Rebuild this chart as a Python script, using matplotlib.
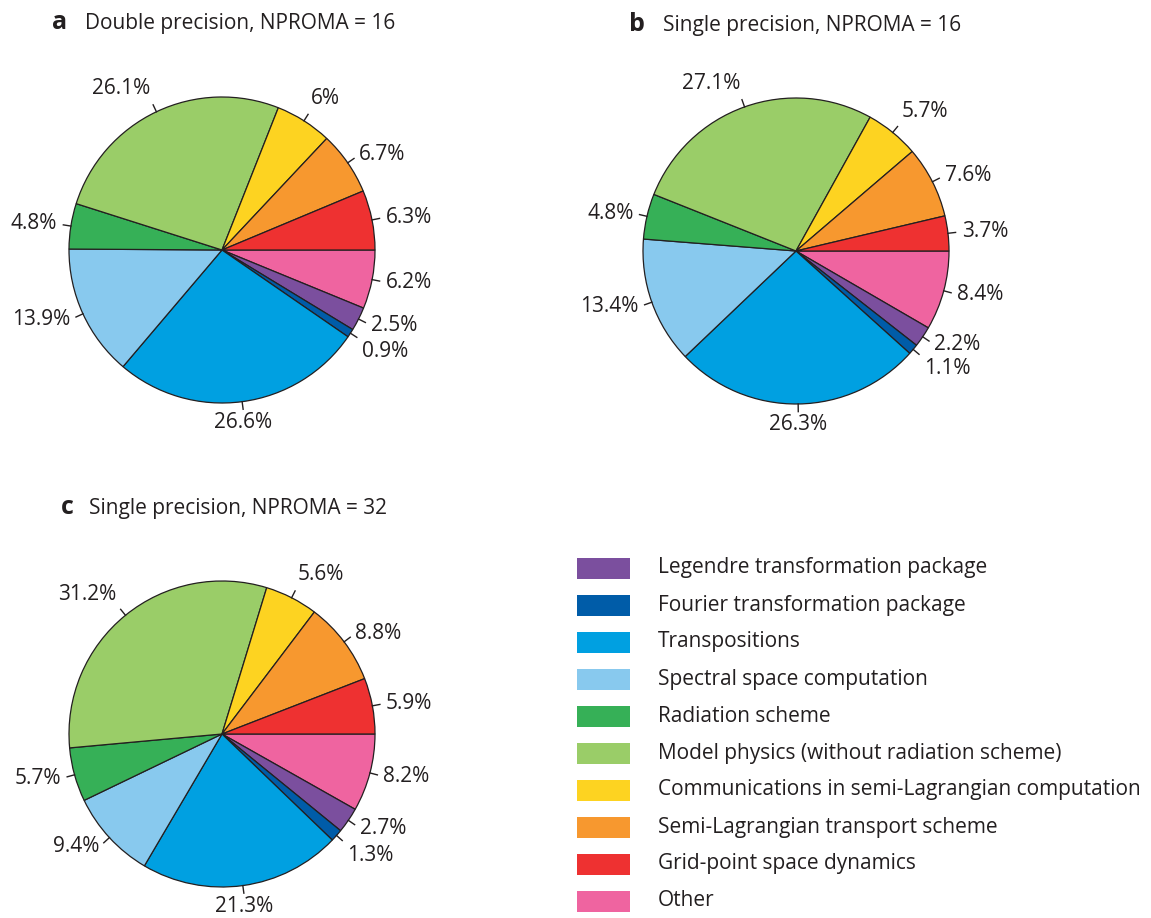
import numpy as np
import matplotlib
matplotlib.use('Agg')
import matplotlib.pyplot as plt
from matplotlib.patches import Rectangle

plt.rcParams['font.family'] = ['Open Sans', 'DejaVu Sans']

# categories in drawing order (clockwise from 3 o'clock)
categories = ['Other', 'Legendre transformation package', 'Fourier transformation package',
              'Transpositions', 'Spectral space computation', 'Radiation scheme',
              'Model physics (without radiation scheme)',
              'Communications in semi-Lagrangian computation',
              'Semi-Lagrangian transport scheme', 'Grid-point space dynamics']
colors = ['#ef64a0', '#7b4f9e', '#005ca8', '#00a0e1', '#88c9ee', '#36b057',
          '#9acd68', '#fdd321', '#f7982f', '#ee3131']

vals_a = [6.2, 2.5, 0.9, 26.6, 13.9, 4.8, 26.1, 6, 6.7, 6.3]
vals_b = [8.4, 2.2, 1.1, 26.3, 13.4, 4.8, 27.1, 5.7, 7.6, 3.7]
vals_c = [8.2, 2.7, 1.3, 21.3, 9.4, 5.7, 31.2, 5.6, 8.8, 5.9]

titles = ['Double precision, NPROMA = 16', 'Single precision, NPROMA = 16',
          'Single precision, NPROMA = 32']
letters = ['a', 'b', 'c']

# legend order (top to bottom)
legend_order = [1, 2, 3, 4, 5, 6, 7, 8, 9, 0]

TXT = '#231f20'
W, H = 1151, 918
R = 153.0
L = 1.3
FS = 15

fig = plt.figure(figsize=(W / 100, H / 100), dpi=100)


def draw_pie(cx, cy, vals):
    box = 2 * L * R
    ax = fig.add_axes([(cx - box / 2) / W, (H - cy - box / 2) / H, box / W, box / H])
    ax.pie(vals, colors=colors, startangle=0, counterclock=False,
           wedgeprops=dict(edgecolor='#231f20', linewidth=0.9))
    ax.set_xlim(-L, L)
    ax.set_ylim(-L, L)
    ax.axis('off')
    tot = float(sum(vals))
    cum = 0.0
    prev = None
    for v in vals:
        mid = -(cum + v / 2) / tot * 360.0
        cum += v
        a = np.deg2rad(mid)
        c, s = np.cos(a), np.sin(a)
        ax.plot([c, 1.05 * c], [s, 1.05 * s], color=TXT, lw=1.0, clip_on=False)
        ha = 'left' if c > 0.3 else ('right' if c < -0.3 else 'center')
        rr = 1.09
        if s > 0.7:
            va = 'bottom'
        elif s < -0.7:
            va = 'top'
            rr = 1.068
        else:
            va = 'center'
        if prev is not None and abs(prev - mid) < 12:
            va = 'top'
        ax.text(rr * c, rr * s, f'{v:g}%', ha=ha, va=va, fontsize=FS,
                color=TXT, clip_on=False)
        prev = mid


draw_pie(222, 250, vals_a)
draw_pie(796, 251, vals_b)
draw_pie(222, 734, vals_c)

# titles and legend in pixel coordinates
lay = fig.add_axes([0, 0, 1, 1], zorder=-1)
lay.set_xlim(0, W)
lay.set_ylim(H, 0)
lay.axis('off')

title_pos = [(52, 85, 29), (629, 663, 31), (61, 89, 514)]
for (lx, tx, by), let, t in zip(title_pos, letters, titles):
    lay.text(lx, by, let, fontsize=18, fontweight='bold', color=TXT, va='baseline')
    lay.text(tx, by, t, fontsize=FS, color=TXT, va='baseline')

for i, k in enumerate(legend_order):
    y = 568 + 37 * i
    lay.add_patch(Rectangle((577, y - 10.5), 53, 21, facecolor=colors[k], edgecolor='none'))
    lay.text(658, y, categories[k], fontsize=FS, color=TXT, va='center')

fig.savefig('out.png', dpi=100)
